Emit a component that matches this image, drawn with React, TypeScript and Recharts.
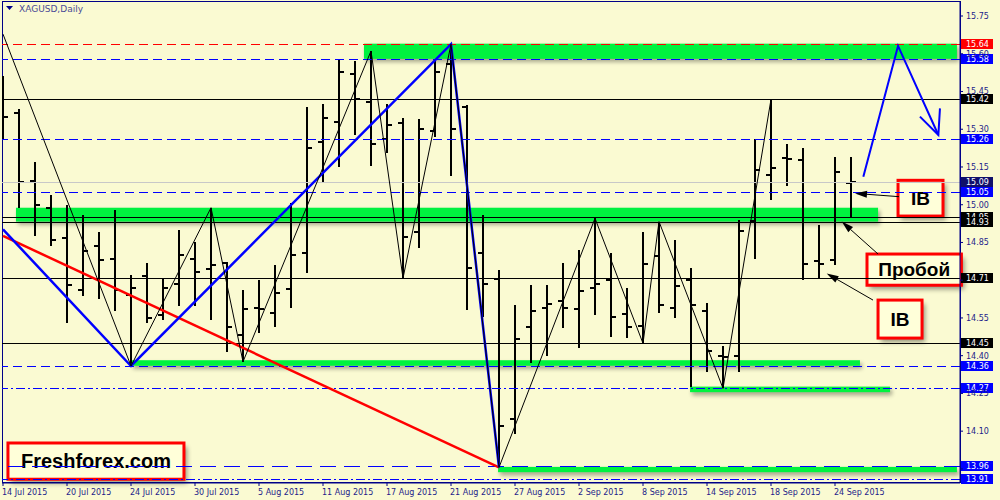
import React from 'react';
import { ComposedChart, Bar, Line, XAxis, YAxis, ReferenceLine, ReferenceArea } from 'recharts';

// ---------- data ----------
const dateTickIdx = [0, 4, 8, 12, 16, 20, 24, 28, 32, 36, 40, 44, 48, 52];
const dateTickLabels = ['14 Jul 2015', '20 Jul 2015', '24 Jul 2015', '30 Jul 2015', '5 Aug 2015', '11 Aug 2015', '17 Aug 2015', '21 Aug 2015', '27 Aug 2015', '2 Sep 2015', '8 Sep 2015', '14 Sep 2015', '18 Sep 2015', '24 Sep 2015'];

const opens = [15.45, 15.366, 15.095, 14.988, 14.869, 14.661, 14.837, 14.784, 14.641, 14.718, 14.562, 14.685, 14.784, 14.743, 14.77, 14.482, 14.59, 14.571, 14.664, 14.809, 15.25, 15.33, 15.518, 15.407, 15.262, 15.326, 14.893, 15.293, 15.558, 15.387, 14.807, 14.705, 14.148, 14.513, 14.591, 14.619, 14.584, 14.67, 14.701, 14.566, 14.519, 14.796, 14.591, 14.701, 14.579, 14.4, 14.399, 14.937, 15.118, 15.184, 15.178, 14.778, 14.78, 15.085];
const highs = [15.512, 15.379, 15.171, 15.039, 15.0, 14.959, 14.89, 14.98, 14.721, 14.77, 14.705, 14.9, 14.851, 14.988, 14.774, 14.661, 14.701, 14.76, 15.008, 15.387, 15.399, 15.578, 15.571, 15.611, 15.399, 15.346, 15.34, 15.571, 15.638, 15.396, 14.96, 14.741, 14.601, 14.681, 14.681, 14.767, 14.82, 14.946, 14.807, 14.668, 14.89, 14.933, 14.86, 14.747, 14.608, 14.438, 14.939, 15.26, 15.419, 15.24, 15.227, 14.92, 15.188, 15.188];
const lows = [15.257, 14.988, 14.877, 14.837, 14.529, 14.638, 14.625, 14.579, 14.359, 14.529, 14.542, 14.599, 14.599, 14.542, 14.416, 14.376, 14.489, 14.515, 14.588, 14.727, 15.088, 15.149, 15.277, 15.154, 15.207, 14.708, 14.827, 15.268, 15.115, 14.582, 14.555, 13.956, 14.089, 14.37, 14.399, 14.509, 14.429, 14.562, 14.475, 14.469, 14.449, 14.568, 14.549, 14.277, 14.336, 14.27, 14.336, 14.783, 15.019, 15.074, 14.701, 14.708, 14.76, 14.952];
const closes = [15.35, 15.091, 14.999, 14.86, 14.681, 14.817, 14.78, 14.661, 14.668, 14.551, 14.668, 14.8, 14.731, 14.76, 14.513, 14.585, 14.585, 14.648, 14.8, 15.227, 15.346, 15.529, 15.42, 15.243, 15.317, 14.873, 15.3, 15.529, 15.301, 14.75, 14.684, 14.122, 14.466, 14.578, 14.607, 14.591, 14.658, 14.685, 14.553, 14.513, 14.764, 14.601, 14.677, 14.601, 14.42, 14.395, 14.896, 15.138, 15.147, 15.18, 14.763, 14.763, 15.129, 15.09];

const yTicks = [15.75, 15.6, 15.45, 15.3, 15.15, 15.0, 14.85, 14.7, 14.55, 14.4, 14.25, 14.1, 13.95];
// tick labels that sit fully under a level tag in the reference
const yTicksHiddenText = [14.7, 13.95];

// horizontal levels (price, kind)
const levelPrices = [15.64, 15.58, 15.42, 15.26, 15.09, 15.05, 14.95, 14.93, 14.71, 14.45, 14.36, 14.27, 13.96, 13.91];
const levelKinds = ['red', 'blue', 'black', 'blue', 'bid', 'blue', 'black', 'black', 'black', 'black', 'blue', 'blueDot', 'blueLong', 'blueDot'];

// green zones
const zoneFrom = [22.56, 0.81, 8.0, 42.94, 30.94];
const zoneTo = [59.62, 54.69, 53.56, 55.44, 59.62];
const zoneLow = [15.58, 14.933, 14.36, 14.255, 13.937];
const zoneHigh = [15.64, 14.988, 14.382, 14.277, 13.958];

// zigzag pivots: [bar index, 'H' | 'L']
const zigzagPivots: [number, string][] = [[8, 'L'], [13, 'H'], [15, 'L'], [23, 'H'], [25, 'L'], [28, 'H'], [31, 'L'], [37, 'H'], [40, 'L'], [41, 'H'], [45, 'L'], [48, 'H']];
const zigzagStartPrice = 15.678;
const blueTrendStartPrice = 14.902;
const blueTrendPivots: [number, string][] = [[8, 'L'], [28, 'H'], [31, 'L']];
const redTrendStartPrice = 14.876;
const redTrendEnd: [number, string] = [31, 'L'];

// projected move
const projIdx = [53.77, 55.94, 58.46];
const projPrice = [15.111, 15.631, 15.277];
const projHeadIdx = [57.31, 58.46, 58.56];
const projHeadPrice = [15.35, 15.277, 15.383];

// annotations
const boxTexts = ['Freshforex.com', 'IB', 'Пробой', 'IB'];
const boxX1 = [0.31, 55.94, 54.0, 54.69];
const boxX2 = [11.31, 58.75, 59.9, 57.44];
const boxY1 = [13.909, 14.955, 14.68, 14.47];
const boxY2 = [14.053, 15.097, 14.804, 14.621];
const arrowFromIdx = [56.0, 54.69, 54.375];
const arrowFromPrice = [15.032, 14.804, 14.621];
const arrowToIdx = [53.25, 52.42, 51.48];
const arrowToPrice = [15.045, 14.933, 14.727];

// ---------- derived tables ----------
const bars = opens.map((o, i) => ({ i, o, h: highs[i], l: lows[i], c: closes[i], range: [lows[i], highs[i]] }));
const pivotPrice = (p: [number, string]) => (p[1] === 'H' ? highs[p[0]] : lows[p[0]]);
const zigzagData = [{ i: 0, v: zigzagStartPrice }, ...zigzagPivots.map((p) => ({ i: p[0], v: pivotPrice(p) }))];
const blueTrendData = [{ i: 0, v: blueTrendStartPrice }, ...blueTrendPivots.map((p) => ({ i: p[0], v: pivotPrice(p) }))];
const redTrendData = [{ i: 0, v: redTrendStartPrice }, { i: redTrendEnd[0], v: pivotPrice(redTrendEnd) }];
const projData = projIdx.map((i, k) => ({ i, v: projPrice[k] }));
const projHeadData = projHeadIdx.map((i, k) => ({ i, v: projHeadPrice[k] }));

// ---------- styles ----------
const BG = '#FAFAD2';
const NAVY = '#000088';
const TXT = '#1c1c8a';
const FONT = 'DejaVu Sans';
const GREEN = '#00f23f';
const KIND_STYLE: Record<string, { stroke: string; dash?: string; tag: string }> = {
  red: { stroke: '#ff0000', dash: '9 5', tag: '#ff0000' },
  blue: { stroke: '#0000ff', dash: '9 5', tag: '#0000ff' },
  blueDot: { stroke: '#0000ff', dash: '9 3 2 3', tag: '#0000ff' },
  blueLong: { stroke: '#0000ff', dash: '16 8', tag: '#0000ff' },
  black: { stroke: '#000000', tag: '#000000' },
  bid: { stroke: '#c8c8c8', tag: '#10106a' },
};

const makeLevelShape = (stroke: string, dash?: string) => (p: any) => {
  const { x1, y1, x2 } = p;
  if (x1 == null || y1 == null) return null;
  const yy = Math.round(y1) + 0.5;
  return <line x1={x1} x2={x2} y1={yy} y2={yy} stroke={stroke} strokeWidth={1} strokeDasharray={dash} shapeRendering="crispEdges" />;
};

const OhlcShape = (props: any) => {
  const { x, y, width, height, payload } = props;
  if (x == null || y == null || !payload) return null;
  const top = Math.min(y, y + height);
  const bot = Math.max(y, y + height);
  const cx = Math.round(x + width / 2);
  const k = (bot - top) / (payload.h - payload.l || 1);
  const yo = Math.round(top + (payload.h - payload.o) * k);
  const yc = Math.round(top + (payload.h - payload.c) * k);
  return (
    <g>
      <line x1={cx} x2={cx} y1={Math.round(top)} y2={Math.round(bot)} stroke="#000" strokeWidth={2} />
      <line x1={cx - 5} x2={cx} y1={yo} y2={yo} stroke="#000" strokeWidth={2} />
      <line x1={cx} x2={cx + 5} y1={yc} y2={yc} stroke="#000" strokeWidth={2} />
    </g>
  );
};

const ZoneShape = (props: any) => {
  const { x, y, width, height } = props;
  if (x == null) return null;
  return (
    <g>
      <defs>
        <filter id="zshadow" x="-10%" y="-100%" width="120%" height="400%">
          <feGaussianBlur stdDeviation="2" />
        </filter>
      </defs>
      <rect x={x + 2} y={y + 3} width={width} height={height} fill="#000" opacity={0.35} filter="url(#zshadow)" />
      <rect x={x} y={y} width={width} height={height} fill={GREEN} />
    </g>
  );
};

const makeBoxShape = (text: string, fontSize: number) => (props: any) => {
  const { x, y, width, height } = props;
  if (x == null) return null;
  return (
    <g>
      <defs>
        <filter id="bshadow" x="-20%" y="-20%" width="150%" height="160%">
          <feGaussianBlur stdDeviation="2.5" />
        </filter>
      </defs>
      <rect x={x + 3} y={y + 4} width={width} height={height} fill="#000" opacity={0.4} filter="url(#bshadow)" />
      <rect x={x} y={y} width={width} height={height} fill="#FFFFD9" stroke="#ff0000" strokeWidth={3} />
      <text x={x + width / 2} y={y + height / 2} dy="0.36em" textAnchor="middle" fontFamily="Liberation Sans" fontWeight="bold" fontSize={fontSize} fill="#000">{text}</text>
    </g>
  );
};

const ArrowShape = (p: any) => {
  const { x1, y1, x2, y2 } = p;
  if (x1 == null) return null;
  const ang = Math.atan2(y2 - y1, x2 - x1);
  const L = 12;
  const W = 3.5;
  const bx = x2 - L * Math.cos(ang);
  const by = y2 - L * Math.sin(ang);
  const px = -Math.sin(ang) * W;
  const py = Math.cos(ang) * W;
  return (
    <g>
      <line x1={x1} y1={y1} x2={bx} y2={by} stroke="#000" strokeWidth={1} />
      <polygon points={`${x2},${y2} ${bx + px},${by + py} ${bx - px},${by - py}`} fill="#000" />
    </g>
  );
};

const TagLabel = (props: any) => {
  const { viewBox, val, bg } = props;
  if (!viewBox) return null;
  const bx = viewBox.x + viewBox.width + 1;
  const cy = Math.round(viewBox.y);
  return (
    <g>
      <rect x={bx} y={cy - 5} width={32} height={10} fill={bg} />
      <text x={bx + 5} y={cy} dy="0.36em" fontSize={8} fontFamily={FONT} fill="#ffffff">{val.toFixed(2)}</text>
    </g>
  );
};

const YTick = (p: any) => {
  const v = Number(p.payload.value);
  if (yTicksHiddenText.some((h) => Math.abs(h - v) < 1e-9)) return <g />;
  return (
    <text x={p.x} y={p.y} dy="0.36em" textAnchor="start" fontSize={8} fontFamily={FONT} fill={TXT}>
      {v.toFixed(2)}
    </text>
  );
};

const XTick = (p: any) => {
  const idx = dateTickIdx.indexOf(p.payload.value);
  return (
    <text x={p.x - 1} y={p.y} dy="0.8em" textAnchor="start" fontSize={8} fontFamily={FONT} fill={TXT}>
      {idx >= 0 ? dateTickLabels[idx] : ''}
    </text>
  );
};

export default function App() {
  return (
    <div style={{ position: 'fixed', left: 0, top: 0, width: 1000, height: 500, background: BG, overflow: 'hidden' }}>
      <div style={{ position: 'absolute', left: 2, top: 1, width: 959, height: 482, border: `1px solid ${NAVY}`, boxSizing: 'border-box' }} />
      <div style={{ position: 'absolute', left: 0, top: 0 }}>
        <ComposedChart width={1000} height={500} data={bars} margin={{ top: 2, right: 0, bottom: 0, left: 2 }}>
          <XAxis
            dataKey="i"
            type="number"
            domain={[-0.0625, 59.8125]}
            allowDataOverflow
            ticks={dateTickIdx}
            interval={0}
            height={17}
            tickSize={3}
            tickMargin={3}
            axisLine={{ stroke: NAVY }}
            tickLine={{ stroke: NAVY }}
            tick={<XTick />}
          />
          <YAxis
            orientation="right"
            type="number"
            domain={[13.894, 15.8057]}
            allowDataOverflow
            ticks={yTicks}
            interval={0}
            width={40}
            tickSize={3}
            tickMargin={3}
            axisLine={{ stroke: NAVY }}
            tickLine={{ stroke: NAVY }}
            tick={<YTick />}
          />
          {zoneFrom.map((x1, k) => (
            <ReferenceArea key={'z' + k} x1={x1} x2={zoneTo[k]} y1={zoneLow[k]} y2={zoneHigh[k]} shape={ZoneShape} ifOverflow="visible" />
          ))}
          {levelPrices.map((v, k) => {
            const st = KIND_STYLE[levelKinds[k]];
            return (
              <ReferenceLine
                key={'l' + k}
                y={v}
                stroke={st.stroke}
                strokeWidth={1}
                strokeDasharray={st.dash}
                shape={makeLevelShape(st.stroke, st.dash)}
                label={<TagLabel val={v} bg={st.tag} />}
              />
            );
          })}
          <Line data={redTrendData} dataKey="v" type="linear" stroke="#ff0000" strokeWidth={2.5} dot={false} isAnimationActive={false} />
          <Line data={blueTrendData} dataKey="v" type="linear" stroke="#0000ff" strokeWidth={2.5} dot={false} isAnimationActive={false} />
          <Bar dataKey="range" barSize={2} shape={OhlcShape} isAnimationActive={false} />
          <Line data={zigzagData} dataKey="v" type="linear" stroke="#000000" strokeWidth={1} dot={false} isAnimationActive={false} />
          <Line data={projData} dataKey="v" type="linear" stroke="#0000ff" strokeWidth={2} dot={false} isAnimationActive={false} />
          <Line data={projHeadData} dataKey="v" type="linear" stroke="#0000ff" strokeWidth={2} dot={false} isAnimationActive={false} />
          {arrowFromIdx.map((fx, k) => (
            <ReferenceLine
              key={'a' + k}
              segment={[{ x: fx, y: arrowFromPrice[k] }, { x: arrowToIdx[k], y: arrowToPrice[k] }]}
              shape={ArrowShape}
              ifOverflow="visible"
            />
          ))}
          {boxTexts.map((t, k) => (
            <ReferenceArea
              key={'b' + k}
              x1={boxX1[k]}
              x2={boxX2[k]}
              y1={boxY1[k]}
              y2={boxY2[k]}
              shape={makeBoxShape(t, k === 0 ? 20 : 19)}
              ifOverflow="visible"
            />
          ))}
        </ComposedChart>
      </div>
      <div style={{ position: 'absolute', left: 6, top: 4, display: 'flex', alignItems: 'center', fontFamily: FONT, fontSize: 9, color: '#4a4a96' }}>
        <svg width={8} height={6} style={{ marginRight: 5 }}>
          <polygon points="0,0 7,0 3.5,4" fill={NAVY} />
        </svg>
        <span>XAGUSD,Daily</span>
      </div>
    </div>
  );
}
